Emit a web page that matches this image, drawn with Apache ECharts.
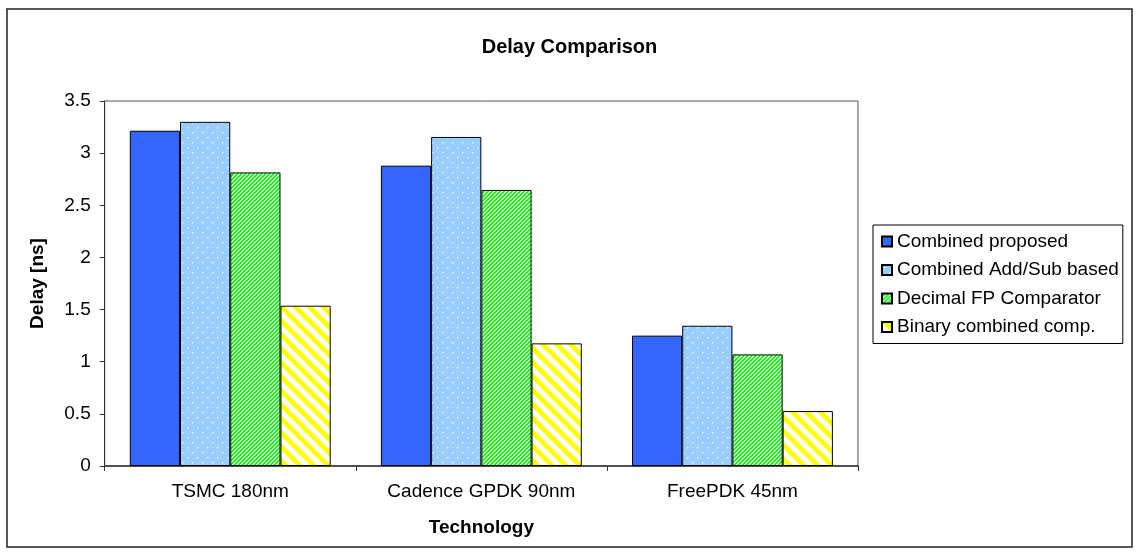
<!DOCTYPE html>
<html>
<head>
<meta charset="utf-8">
<script src="https://cdn.jsdelivr.net/npm/echarts@6/dist/echarts.min.js"></script>
<style>
html,body{margin:0;padding:0;background:#fff;}
#c{width:1139px;height:555px;}
</style>
</head>
<body>
<div id="c"></div>
<script>
const categories = ['TSMC 180nm', 'Cadence GPDK 90nm', 'FreePDK 45nm'];
const seriesNames = ['Combined proposed', 'Combined Add/Sub based', 'Decimal FP Comparator', 'Binary combined comp.'];
const combinedProposed = [3.215, 2.88, 1.25];
const combinedAddSub = [3.30, 3.155, 1.345];
const decimalFP = [2.815, 2.647, 1.07];
const binaryCombined = [1.537, 1.176, 0.527];
const yTicks = [0, 0.5, 1, 1.5, 2, 2.5, 3, 3.5];

function makeTile(w, h, fn) {
  const cv = document.createElement('canvas');
  cv.width = w; cv.height = h;
  const ctx = cv.getContext('2d');
  const img = ctx.createImageData(w, h);
  for (let y = 0; y < h; y++) for (let x = 0; x < w; x++) {
    const c = fn(x, y);
    const i = (y * w + x) * 4;
    img.data[i] = c[0]; img.data[i+1] = c[1]; img.data[i+2] = c[2]; img.data[i+3] = 255;
  }
  ctx.putImageData(img, 0, 0);
  return cv;
}
const dotTile = makeTile(10, 10, (x, y) => {
  if ((x === 2 && y === 2) || (x === 7 && y === 7)) return [240, 248, 255];
  if ((x === 3 && y === 2) || (x === 2 && y === 3) || (x === 8 && y === 7) || (x === 7 && y === 8)) return [200, 228, 255];
  return [153, 204, 255];
});
const greenTile = makeTile(4, 4, (x, y) => {
  const k = (x + y) % 4;
  if (k === 0) return [255, 255, 255];
  if (k === 1) return [160, 255, 160];
  return [0, 255, 0];
});
const P = 14;
const yellowTile = makeTile(P, P, (x, y) => {
  const k = ((x - y) % P + P) % P;
  if (k < 6) return [255, 255, 0];
  if (k === 6 || k === P - 1) return [255, 255, 150];
  return [255, 255, 255];
});

const fills = [
  '#3366FF',
  {image: dotTile, repeat: 'repeat'},
  {image: greenTile, repeat: 'repeat'},
  {image: yellowTile, repeat: 'repeat'}
];
const dataSets = [combinedProposed, combinedAddSub, decimalFP, binaryCombined];

const chart = echarts.init(document.getElementById('c'), null, {renderer: 'canvas'});
const font = 'Liberation Sans, Arial, sans-serif';
chart.setOption({
  animation: false,
  backgroundColor: '#fff',
  textStyle: {fontFamily: font},
  title: {
    text: 'Delay Comparison',
    left: 'center',
    top: 32,
    textStyle: {fontFamily: font, fontSize: 20, fontWeight: 'bold', color: '#000'}
  },
  graphic: [{
    type: 'rect',
    shape: {x: 7, y: 9, width: 1125, height: 538},
    style: {fill: 'none', stroke: '#222', lineWidth: 1.5},
    silent: true, z: -1
  }],
  legend: {
    orient: 'vertical',
    left: 873,
    top: 225,
    padding: [7, 4, 7, 8],
    itemWidth: 10,
    itemHeight: 10,
    itemGap: 9.5,
    borderColor: '#000',
    borderWidth: 1,
    icon: 'rect',
    data: seriesNames,
    textStyle: {fontFamily: font, fontSize: 19, color: '#000', padding: [0, 0, 0, 0]}
  },
  grid: {
    left: 104.7, right: 281, top: 101, bottom: 89,
    show: true, borderColor: '#555', borderWidth: 1, backgroundColor: '#fff'
  },
  xAxis: {
    type: 'category',
    data: categories,
    name: 'Technology',
    nameLocation: 'middle',
    nameGap: 52,
    nameTextStyle: {fontFamily: font, fontSize: 19, fontWeight: 'bold', color: '#000'},
    axisLine: {lineStyle: {color: '#333', width: 1.5}},
    axisTick: {show: true, length: 5, lineStyle: {color: '#333'}},
    axisLabel: {fontFamily: font, fontSize: 19, color: '#000', margin: 16}
  },
  yAxis: {
    type: 'value',
    min: yTicks[0],
    max: yTicks[yTicks.length - 1],
    interval: 0.5,
    name: 'Delay [ns]',
    nameLocation: 'middle',
    nameRotate: 90,
    nameGap: 57,
    nameTextStyle: {fontFamily: font, fontSize: 19, fontWeight: 'bold', color: '#000'},
    splitLine: {show: false},
    axisLine: {show: true, lineStyle: {color: '#333', width: 1}},
    axisTick: {show: true, length: 5, lineStyle: {color: '#333'}},
    axisLabel: {fontFamily: font, fontSize: 19, color: '#000', margin: 14}
  },
  series: seriesNames.map((n, i) => ({
    name: n,
    type: 'bar',
    data: dataSets[i],
    barGap: '0%',
    barCategoryGap: '20%',
    itemStyle: {color: fills[i], borderColor: '#000', borderWidth: 1}
  }))
});
</script>
</body>
</html>
